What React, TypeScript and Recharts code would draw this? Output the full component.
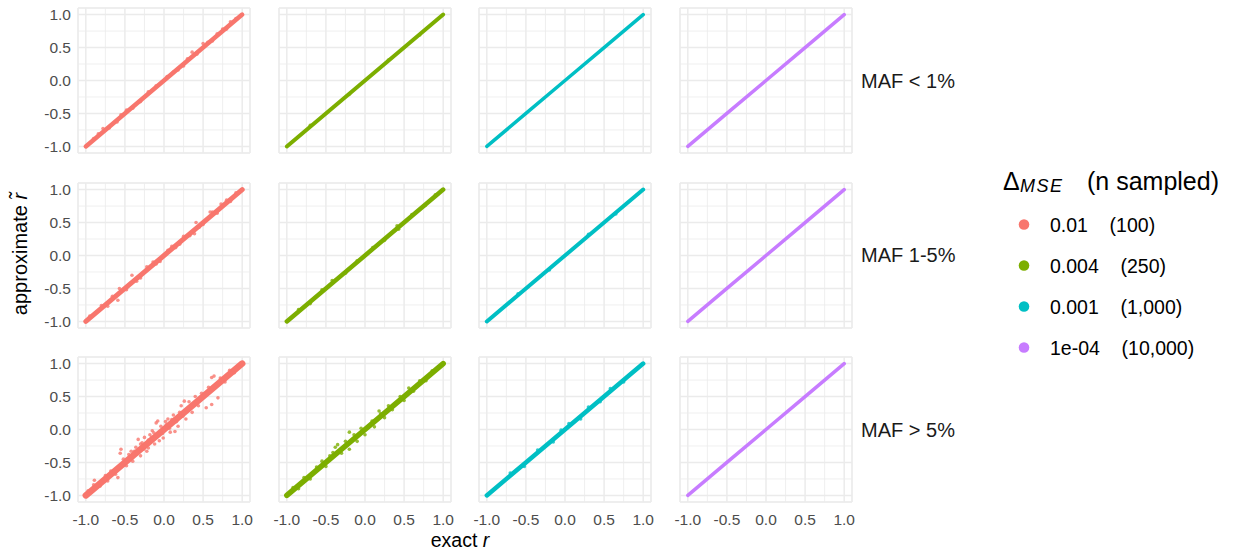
import React from 'react'
import { ComposedChart, XAxis, YAxis, CartesianGrid, Line, Scatter } from 'recharts'

const seriesColors = ['#F8766D', '#7CAE00', '#00BFC4', '#C77CFF']
const deltaMse = ['0.01', '0.004', '0.001', '1e-04']
const nSampled = ['(100)', '(250)', '(1,000)', '(10,000)']
const mafBins = ['MAF < 1%', 'MAF 1-5%', 'MAF > 5%']
const majorTicks = [-1, -0.5, 0, 0.5, 1]
const minorTicks = [-0.75, -0.25, 0.25, 0.75]

// the dense part of every panel sits on the diagonal
const exactDiag = [-1, -0.5, 0, 0.5, 1]
const approxDiag = [-1, -0.5, 0, 0.5, 1]

// points that stand off the diagonal, [exact r, approximate r]
const lowRed = [
  [-0.9, -0.88], [-0.84, -0.81], [-0.78, -0.73], [-0.7, -0.72], [-0.6, -0.63], [-0.55, -0.52],
  [-0.48, -0.45], [-0.4, -0.42], [-0.3, -0.32], [-0.2, -0.17], [-0.1, -0.08], [0.04, 0.06],
  [0.12, 0.13], [0.18, 0.16], [0.25, 0.22], [0.3, 0.33], [0.36, 0.43], [0.42, 0.4], [0.5, 0.56],
  [0.56, 0.58], [0.62, 0.6], [0.68, 0.71], [0.75, 0.78], [0.8, 0.78], [0.85, 0.89], [0.92, 0.94],
]
const lowGreen = [[-0.7, -0.68], [-0.2, -0.21], [0.3, 0.31], [0.7, 0.69]]
const lowCyan: number[][] = []
const lowPurple: number[][] = []

const midRed = [
  [-0.95, -0.92], [-0.8, -0.76], [-0.72, -0.77], [-0.59, -0.68], [-0.57, -0.5], [-0.48, -0.52],
  [-0.41, -0.3], [-0.3, -0.34], [-0.22, -0.17], [-0.14, -0.1], [-0.05, -0.09], [0.05, 0.08],
  [0.15, 0.12], [0.25, 0.29], [0.33, 0.3], [0.39, 0.33], [0.41, 0.5], [0.5, 0.47], [0.59, 0.66],
  [0.62, 0.66], [0.68, 0.64], [0.73, 0.78], [0.85, 0.82], [0.92, 0.95], [-0.66, -0.62],
  [-0.35, -0.39], [-0.1, -0.13], [0.1, 0.14], [0.2, 0.17], [0.45, 0.43], [0.8, 0.84],
]
const midGreen = [
  [-0.85, -0.82], [-0.7, -0.73], [-0.55, -0.52], [-0.42, -0.38], [-0.25, -0.27], [-0.1, -0.08],
  [0.1, 0.12], [0.25, 0.23], [0.41, 0.45], [0.43, 0.4], [0.6, 0.62], [0.77, 0.76], [0.9, 0.92],
]
const midCyan = [[-0.6, -0.58], [-0.2, -0.22], [0.3, 0.32], [0.65, 0.63]]
const midPurple: number[][] = []

const highRed = [
  [-0.97, -0.93], [-0.9, -0.84], [-0.89, -0.77], [-0.82, -0.86], [-0.75, -0.7], [-0.72, -0.78],
  [-0.68, -0.63], [-0.62, -0.68], [-0.59, -0.73], [-0.56, -0.36], [-0.55, -0.3], [-0.52, -0.45],
  [-0.48, -0.55], [-0.45, -0.38], [-0.42, -0.33], [-0.4, -0.48], [-0.36, -0.27], [-0.33, -0.15],
  [-0.3, -0.4], [-0.28, -0.2], [-0.25, -0.12], [-0.22, -0.33], [-0.2, -0.28], [-0.18, -0.08],
  [-0.15, -0.02], [-0.12, -0.22], [-0.1, 0.1], [-0.08, 0.13], [-0.06, -0.17], [-0.01, -0.13],
  [0.02, 0.12], [0.05, 0.16], [0.08, -0.04], [0.12, 0.22], [0.14, -0.03], [0.18, 0.05],
  [0.22, 0.36], [0.26, 0.43], [0.28, 0.16], [0.32, 0.42], [0.36, 0.26], [0.4, 0.5], [0.44, 0.36],
  [0.48, 0.55], [0.54, 0.33], [0.57, 0.64], [0.61, 0.38], [0.61, 0.79], [0.64, 0.81], [0.69, 0.48],
  [0.72, 0.78], [0.78, 0.72], [0.84, 0.9], [0.9, 0.86], [0.95, 0.97], [-0.3, -0.22], [-0.26, -0.3],
  [-0.16, -0.12], [-0.13, -0.05], [-0.04, 0.05], [-0.02, -0.06], [0.03, 0.07], [0.07, 0.02],
  [0.1, 0.15], [0.16, 0.12], [0.2, 0.26], [0.24, 0.2], [-0.38, -0.33], [-0.2, -0.16],
]
const highGreen = [
  [-0.92, -0.88], [-0.85, -0.9], [-0.78, -0.73], [-0.7, -0.75], [-0.62, -0.57], [-0.55, -0.48],
  [-0.5, -0.56], [-0.45, -0.4], [-0.41, -0.35], [-0.38, -0.27], [-0.35, -0.23], [-0.3, -0.36],
  [-0.25, -0.18], [-0.2, -0.04], [-0.2, -0.3], [-0.14, -0.08], [-0.1, -0.18], [-0.05, 0.02],
  [0.0, -0.08], [0.05, 0.05], [0.09, 0.13], [0.12, 0.04], [0.18, 0.28], [0.2, 0.24], [0.25, 0.18],
  [0.3, 0.36], [0.35, 0.3], [0.39, 0.38], [0.45, 0.5], [0.5, 0.44], [0.56, 0.63], [0.62, 0.58],
  [0.7, 0.74], [0.78, 0.74], [0.86, 0.89],
]
const highCyan = [
  [-0.7, -0.66], [-0.52, -0.56], [-0.35, -0.31], [-0.15, -0.19], [-0.05, -0.01], [0.05, 0.09],
  [0.2, 0.16], [0.3, 0.34], [0.45, 0.42], [0.58, 0.62], [0.75, 0.72],
]
const highPurple: number[][] = []

const panelPoints = [
  [lowRed, lowGreen, lowCyan, lowPurple],
  [midRed, midGreen, midCyan, midPurple],
  [highRed, highGreen, highCyan, highPurple],
]

// layout
const FONT = '"Liberation Sans", Arial, Helvetica, sans-serif'
const GRID = '#ebebeb'
const PW = 172
const PH = 145
const PAD = 12 // room around each panel so edge tick labels are not clipped
const colLeft = [78, 278.5, 479, 679.5]
const rowTop = [8, 182.5, 357]
const bandWidth = [
  [4.5, 4, 3.5, 3.5],
  [5, 4.5, 4, 3.5],
  [6.5, 5.5, 4.5, 3.5],
]
const DOM: [number, number] = [-1.1, 1.1]
const fmt = (v: number) => v.toFixed(1)

const Panel = ({ row, col }: { row: number; col: number }) => {
  const showY = col === 0
  const showX = row === 2
  const yw = showY ? 78 : 0
  const xh = showX ? 30 : 0
  const padL = showY ? 0 : PAD
  const color = seriesColors[col]
  const core = exactDiag.map((x, i) => ({ x, y: approxDiag[i] }))
  const pts = panelPoints[row][col].map(([x, y]) => ({ x, y }))
  return (
    <div style={{ position: 'absolute', left: colLeft[col] - yw - padL, top: rowTop[row] - PAD }}>
      <ComposedChart
        width={PW + yw + padL + PAD}
        height={PH + xh + 2 * PAD}
        margin={{ top: PAD, right: PAD, bottom: PAD, left: padL }}
      >
        <XAxis xAxisId="minor" type="number" dataKey="x" domain={DOM} ticks={minorTicks} allowDataOverflow hide />
        <YAxis yAxisId="minor" type="number" dataKey="y" domain={DOM} ticks={minorTicks} allowDataOverflow hide />
        <CartesianGrid xAxisId="minor" yAxisId="minor" stroke={GRID} strokeWidth={0.8} />
        <CartesianGrid stroke={GRID} strokeWidth={1.5} />
        <XAxis
          type="number"
          dataKey="x"
          domain={DOM}
          ticks={majorTicks}
          allowDataOverflow
          interval={0}
          hide={!showX}
          height={30}
          tickFormatter={fmt}
          tickLine={false}
          axisLine={false}
          tickSize={0}
          tickMargin={11.5}
          tick={{ fontSize: 15.5, fill: '#4d4d4d' }}
        />
        <YAxis
          type="number"
          dataKey="y"
          domain={DOM}
          ticks={majorTicks}
          allowDataOverflow
          interval={0}
          hide={!showY}
          width={78}
          tickFormatter={fmt}
          tickLine={false}
          axisLine={false}
          tickSize={0}
          tickMargin={7}
          tick={{ fontSize: 15.5, fill: '#4d4d4d' }}
        />
        <Line
          data={core}
          dataKey="y"
          type="linear"
          stroke={color}
          strokeWidth={bandWidth[row][col]}
          strokeLinecap="round"
          dot={false}
          activeDot={false}
          isAnimationActive={false}
        />
        <Scatter
          data={pts}
          dataKey="y"
          fill={color}
          isAnimationActive={false}
          shape={(p: any) => <circle cx={p.cx} cy={p.cy} r={1.8} fill={color} fillOpacity={0.8} />}
        />
      </ComposedChart>
    </div>
  )
}

const legendY = [224.5, 265.5, 306.5, 347.5]
const rowMid = [80.5, 255, 430]

export default function App() {
  return (
    <div style={{ position: 'absolute', left: 0, top: 0, width: 1234, height: 554, background: '#fff', fontFamily: FONT }}>
      {mafBins.map((_, r) => seriesColors.map((__, c) => <Panel key={`${r}-${c}`} row={r} col={c} />))}
      <svg width={1234} height={554} style={{ position: 'absolute', left: 0, top: 0, pointerEvents: 'none' }} fontFamily={FONT}>
        {mafBins.map((m, r) => (
          <text key={m} x={861} y={rowMid[r]} fontSize={20} fill="#1a1a1a" dominantBaseline="central">
            {m}
          </text>
        ))}
        <text x={460} y={540} fontSize={19.5} textAnchor="middle" dominantBaseline="central" fill="#000">
          exact <tspan fontStyle="italic">r</tspan>
        </text>
        <text
          transform="translate(20,254) rotate(-90)"
          fontSize={20}
          textAnchor="middle"
          dominantBaseline="central"
          fill="#000"
        >
          approximate <tspan fontStyle="italic">{'r\u0303'}</tspan>
        </text>
        <text x={1003} y={190} fontSize={25} fill="#000">
          Δ
        </text>
        <text x={1020} y={192} fontSize={18} fontStyle="italic" letterSpacing={1.5} fill="#000">
          MSE
        </text>
        <text x={1087} y={190} fontSize={25} fill="#000">
          (n sampled)
        </text>
        {deltaMse.map((d, i) => (
          <g key={d}>
            <circle cx={1024} cy={legendY[i]} r={5.3} fill={seriesColors[i]} />
            <text
              x={1050}
              y={legendY[i]}
              fontSize={19.5}
              dominantBaseline="central"
              fill="#000"
              style={{ whiteSpace: 'pre' }}
            >
              {`${d}    ${nSampled[i]}`}
            </text>
          </g>
        ))}
      </svg>
    </div>
  )
}
